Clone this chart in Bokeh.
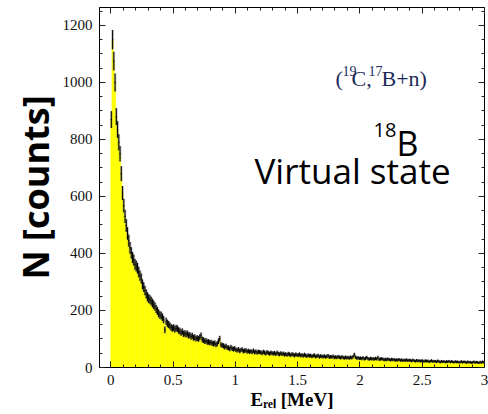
import numpy as np
from bokeh.plotting import figure
from bokeh.models import (Label, LinearAxis, SingleIntervalTicker, Range1d,
                          CustomJSTickFormatter, Title)
from bokeh.embed import file_html
from bokeh.resources import INLINE

# ---------------- data ----------------
bin_width = 0.01          # MeV
e_start = 0.0             # first bin's left edge (MeV)
counts = [
    870, 1150, 1075, 1000, 880, 835, 790, 750, 680, 612,
    568, 530, 498, 470, 445, 420, 402, 386, 377, 362,
    356, 348, 335, 322, 312, 292, 282, 270, 258, 248,
    242, 238, 233, 226, 220, 214, 205, 198, 190, 184,
    182, 176, 168, 132, 162, 155, 151, 146, 141, 137,
    140, 134, 138, 136, 130, 128, 122, 126, 118, 120,
    116, 119, 112, 114, 108, 111, 104, 106, 101, 103,
    100, 106, 112, 98, 96, 92, 94, 89, 90, 87,
    88, 85, 83, 86, 80, 84, 92, 101, 80, 78,
    76, 72, 75, 70, 69, 65, 71, 66, 64, 67,
    62, 60, 64, 58, 61, 63, 57, 59, 60, 56,
    58, 55, 57, 54, 59, 53, 56, 52, 55, 54,
    53, 50, 55, 52, 49, 54, 51, 48, 52, 50,
    49, 51, 47, 52, 48, 46, 50, 47, 49, 45,
    47, 44, 48, 46, 43, 47, 45, 42, 46, 44,
    43, 46, 42, 44, 41, 45, 42, 40, 43, 41,
    42, 39, 41, 43, 38, 40, 42, 37, 40, 39,
    38, 40, 37, 39, 41, 36, 38, 37, 39, 35,
    37, 35, 38, 36, 34, 37, 35, 33, 36, 34,
    35, 33, 36, 34, 38, 45, 36, 33, 34, 32,
    33, 31, 34, 30, 32, 35, 31, 29, 32, 30,
    31, 29, 32, 30, 35, 28, 30, 31, 29, 27,
    29, 27, 30, 28, 26, 29, 27, 28, 25, 27,
    26, 28, 25, 27, 24, 26, 25, 27, 24, 26,
    25, 23, 26, 24, 22, 25, 23, 24, 22, 24,
    23, 21, 24, 22, 23, 20, 22, 24, 21, 22,
    22, 20, 23, 21, 19, 22, 20, 21, 19, 21,
    20, 22, 19, 21, 20, 18, 21, 19, 20, 18,
    19, 21, 18, 20, 19, 17, 20, 18, 19, 17,
    18, 20, 17, 19, 18, 16, 19, 17, 20, 18,
]
x_tick_step = 0.5
y_tick_step = 200
x_label = "E\u1d63\u2091\u2097 [MeV]"
y_label = "N [counts]"
reaction_parts = ["(", "19", "C,", "17", "B+n)"]
nucleus_mass = "18"
nucleus_symbol = "B"
state_text = "Virtual state"

# ---------------- derived ----------------
c = np.array(counts, dtype=float)
left = e_start + np.arange(len(c)) * bin_width
right = left + bin_width
centre = left + bin_width / 2
err = np.sqrt(c)

p = figure(width=488, height=414, output_backend="svg", toolbar_location=None,
           x_range=Range1d(-0.09, 3.0), y_range=Range1d(0, 1263),
           min_border_left=99, min_border_right=4, min_border_top=7, min_border_bottom=47)
p.xgrid.visible = False
p.ygrid.visible = False
p.outline_line_color = "black"
p.outline_line_width = 1
p.background_fill_color = "white"
p.border_fill_color = "white"

p.quad(left=left, right=right, bottom=0, top=c, fill_color="#FFFF00",
       line_color="#FFFF00", line_width=0.6)
p.segment(x0=centre, y0=c - err, x1=centre, y1=c + err, line_color="#777777",
          line_width=2.6, line_alpha=0.45)
p.segment(x0=centre, y0=c - err, x1=centre, y1=c + err, line_color="black", line_width=1)
p.segment(x0=left, y0=c, x1=right, y1=c, line_color="black", line_width=1)

fmt = CustomJSTickFormatter(code="return String(Math.round(tick*1000)/1000);")
blank = CustomJSTickFormatter(code="return '';")

def style_axis(ax, ticker, show_labels):
    ax.ticker = ticker
    ax.major_tick_in = 6
    ax.major_tick_out = 0
    ax.minor_tick_in = 3
    ax.minor_tick_out = 0
    ax.major_tick_line_color = "#222222"
    ax.minor_tick_line_color = "#222222"
    ax.axis_line_color = "black"
    if show_labels:
        ax.formatter = fmt
        ax.major_label_text_font = "Liberation Serif"
        ax.major_label_text_font_size = "15px"
        ax.major_label_text_color = "#111111"
        ax.major_label_standoff = 7
    else:
        ax.formatter = blank
        ax.major_label_standoff = 0
        ax.axis_line_color = None

xt = SingleIntervalTicker(interval=x_tick_step, num_minor_ticks=5)
yt = SingleIntervalTicker(interval=y_tick_step, num_minor_ticks=4)
style_axis(p.xaxis[0], xt, True)
style_axis(p.yaxis[0], yt, True)
top_ax = LinearAxis()
right_ax = LinearAxis()
style_axis(top_ax, SingleIntervalTicker(interval=x_tick_step, num_minor_ticks=5), False)
style_axis(right_ax, SingleIntervalTicker(interval=y_tick_step, num_minor_ticks=4), False)
p.add_layout(top_ax, "above")
p.add_layout(right_ax, "right")

# axis titles (in the side panels so they are not clipped to the frame)
ytitle = Title(text=y_label, align="center", text_font="Open Sans", text_font_size="36px",
               text_font_style="bold", text_color="black", standoff=0, offset=7)
p.add_layout(ytitle, "left")
xtitle = Title(text=x_label, align="center", text_font="Liberation Serif",
               text_font_size="19px", text_font_style="bold", text_color="black",
               standoff=2, vertical_align="top")
p.add_layout(xtitle, "below")

FL, FB = 99, 367  # frame left / bottom in canvas px

def lab(text, cx, cy, size, font, color="black", style="normal"):
    l = Label(x=cx - FL, y=FB - cy, x_units="screen", y_units="screen", text=text,
              text_font=font, text_font_size=size, text_color=color,
              text_font_style=style, text_baseline="alphabetic", text_align="left")
    p.add_layout(l)
    return l

navy = "#1c2a5a"
lab(reaction_parts[0], 335, 78, "22px", "Liberation Serif", navy)
lab(reaction_parts[1], 342, 70, "14px", "Liberation Serif", navy)
lab(reaction_parts[2], 351, 78, "22px", "Liberation Serif", navy)
lab(reaction_parts[3], 368, 70, "14px", "Liberation Serif", navy)
lab(reaction_parts[4], 381, 78, "22px", "Liberation Serif", navy)

lab(nucleus_mass, 373, 129, "20px", "Open Sans")
lab(nucleus_symbol, 396, 142, "34px", "Open Sans")
lab(state_text, 254, 170, "35px", "Open Sans")

open("out.html", "w").write(file_html(p, INLINE))
